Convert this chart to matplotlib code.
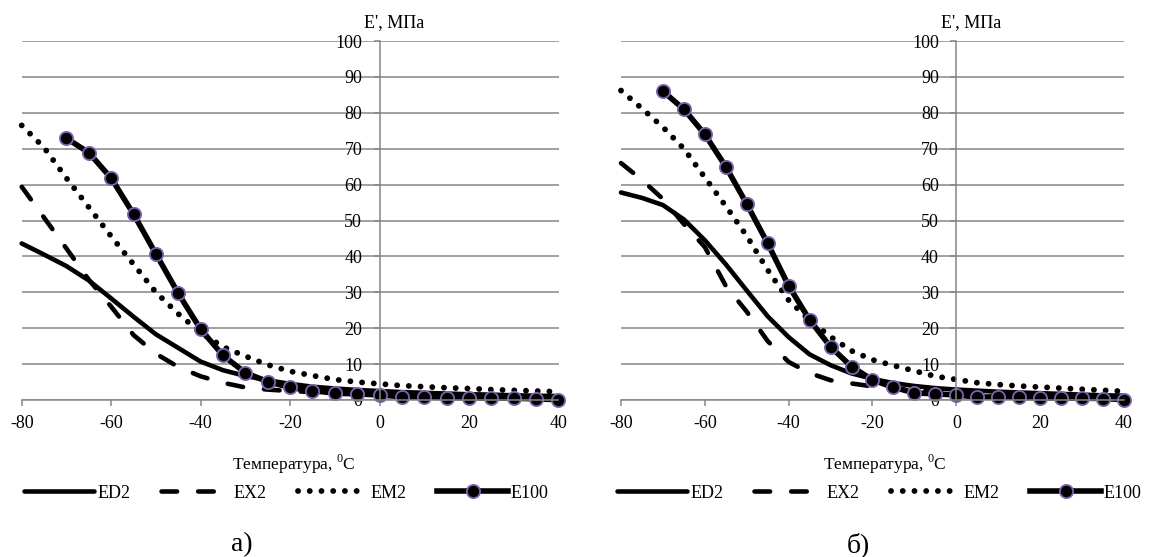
import matplotlib
matplotlib.use("Agg")
import matplotlib.pyplot as plt
from matplotlib.lines import Line2D

plt.rcParams['font.family'] = ['Liberation Serif', 'DejaVu Serif']
plt.rcParams['font.size'] = 13
plt.rcParams['axes.unicode_minus'] = False
plt.rcParams['mathtext.fontset'] = 'custom'
plt.rcParams['mathtext.rm'] = 'Liberation Serif'

# temperature, deg C
temp = [-80, -75, -70, -65, -60, -55, -50, -45, -40, -35, -30, -25, -20,
        -15, -10, -5, 0, 5, 10, 15, 20, 25, 30, 35, 40]
temp_e100 = [-70, -65, -60, -55, -50, -45, -40, -35, -30, -25, -20,
             -15, -10, -5, 0, 5, 10, 15, 20, 25, 30, 35, 40]

# panel a)
ed2_a = [43.6, 40.5, 37.3, 33.3, 28.3, 23.2, 18.3, 14.5, 10.7, 8.3, 6.7, 5.5, 4.5,
         3.7, 3.2, 2.8, 2.5, 2.2, 2.0, 1.8, 1.6, 1.5, 1.3, 1.2, 1.1]
ex2_a = [59.4, 50.8, 42.2, 33.5, 26.0, 18.1, 12.9, 9.2, 6.6, 4.8, 3.5, 2.9, 2.5,
         2.2, 2.0, 1.8, 1.6, 1.5, 1.3, 1.2, 1.1, 1.0, 0.9, 0.8, 0.7]
em2_a = [76.5, 70.3, 61.8, 53.7, 45.6, 37.8, 30.0, 24.0, 18.8, 14.8, 12.2, 9.8, 8.0,
         6.8, 5.7, 5.0, 4.5, 4.0, 3.7, 3.4, 3.2, 2.9, 2.7, 2.5, 2.3]
e100_a = [72.9, 68.9, 61.8, 51.8, 40.7, 29.7, 19.7, 12.4, 7.6, 5.1, 3.5,
          2.6, 1.9, 1.7, 1.4, 0.9, 0.8, 0.6, 0.6, 0.5, 0.5, 0.3, 0.1]

# panel б)
ed2_b = [57.8, 56.3, 54.3, 50.3, 44.5, 37.8, 30.5, 23.3, 17.5, 12.7, 9.7, 7.4, 5.9,
         4.7, 3.9, 3.3, 2.9, 2.6, 2.3, 2.1, 1.9, 1.7, 1.5, 1.3, 1.2]
ex2_b = [66.0, 61.3, 56.0, 49.0, 42.6, 31.8, 24.6, 16.4, 10.6, 7.5, 5.5, 4.6, 3.8,
         3.2, 2.7, 2.3, 2.0, 1.8, 1.6, 1.4, 1.3, 1.2, 1.1, 1.0, 0.9]
em2_b = [86.2, 81.2, 76.0, 70.0, 62.0, 54.0, 45.7, 36.2, 27.8, 22.2, 17.6, 13.7, 11.2,
         9.6, 8.1, 6.6, 5.7, 4.8, 4.3, 3.9, 3.6, 3.3, 3.0, 2.7, 2.4]
e100_b = [86.0, 81.0, 74.0, 65.0, 54.6, 43.6, 31.8, 22.3, 14.8, 9.3, 5.6,
          3.5, 2.0, 1.7, 1.4, 0.8, 0.9, 0.7, 0.6, 0.5, 0.5, 0.4, 0.1]

labels = ["ED2", "EX2", "EM2", "E100"]
x_ticks = [-80, -60, -40, -20, 0, 20, 40]
y_ticks = [0, 10, 20, 30, 40, 50, 60, 70, 80, 90, 100]

W, H = 1155, 557
GRAY = "#868686"
PURPLE = "#7e62b0"

styles = [
    dict(color="black", lw=3.3, solid_capstyle="round"),
    dict(color="black", lw=3.3, dashes=(3.4, 4.6), dash_capstyle="round"),
    dict(color="black", lw=4.2, dashes=(0.01, 2.0), dash_capstyle="round"),
    dict(color="black", lw=4.0, marker="o", markersize=9.5, markerfacecolor="black",
         markeredgecolor=PURPLE, markeredgewidth=1.3),
]


def make_line(st):
    ln = Line2D([], [], **st)
    ln.set_dash_capstyle("round")
    return ln


def draw_panel(ax, ed2, ex2, em2, e100, legend_x, title_x, letter, letter_x):
    series = [(temp, ed2), (temp, ex2), (temp, em2), (temp_e100, e100)]
    for i, (xs, ys) in enumerate(series):
        line, = ax.plot(xs, ys, clip_on=False, zorder=2 + i * 0.1, **styles[i])
        line.set_dash_capstyle("round")

    ax.set_xlim(-80, 40)
    ax.set_ylim(0, 100)
    ax.set_xticks(x_ticks)
    ax.set_yticks(y_ticks)

    ax.spines["top"].set_visible(False)
    ax.spines["right"].set_visible(False)
    ax.spines["left"].set_position(("data", 0))
    for s in ("left", "bottom"):
        ax.spines[s].set_color(GRAY)
        ax.spines[s].set_linewidth(1.1)
    ax.yaxis.grid(True, color=GRAY, lw=1.1)
    ax.set_axisbelow(True)
    ax.tick_params(axis="y", direction="out", length=4, width=1.1, color=GRAY, pad=8.5)
    ax.tick_params(axis="x", direction="out", length=4, width=1.1, color=GRAY, pad=7)

    ax.annotate("E', МПа", xy=(0, 100), xycoords="data", xytext=(-11, 13),
                textcoords="offset points", ha="left", va="center")

    fig = ax.figure
    fig.text(title_x / W, 1 - 464 / H, "Температура, $^{0}$C", ha="center", va="center",
             fontsize=12.5)
    fig.text(letter_x / W, 1 - 545 / H, letter, ha="center", va="center", fontsize=20)

    handles = [make_line(st) for st in styles]
    ax.legend(handles, labels, ncol=4, loc="center left",
              bbox_to_anchor=(legend_x / W, 1 - 493 / H), bbox_transform=fig.transFigure,
              frameon=False, handlelength=3.9, handletextpad=0.15, columnspacing=1.7,
              borderpad=0, borderaxespad=0, numpoints=1)


fig = plt.figure(figsize=(W / 100, H / 100), dpi=100)
ax1 = fig.add_axes([21.7 / W, 1 - 400 / H, 536.8 / W, 359 / H])
ax2 = fig.add_axes([621 / W, 1 - 400 / H, 503 / W, 359 / H])

draw_panel(ax1, ed2_a, ex2_a, em2_a, e100_a, 24, 294, "а)", 242)
draw_panel(ax2, ed2_b, ex2_b, em2_b, e100_b, 617, 885, "б)", 858)

fig.savefig("out.png", dpi=100)
